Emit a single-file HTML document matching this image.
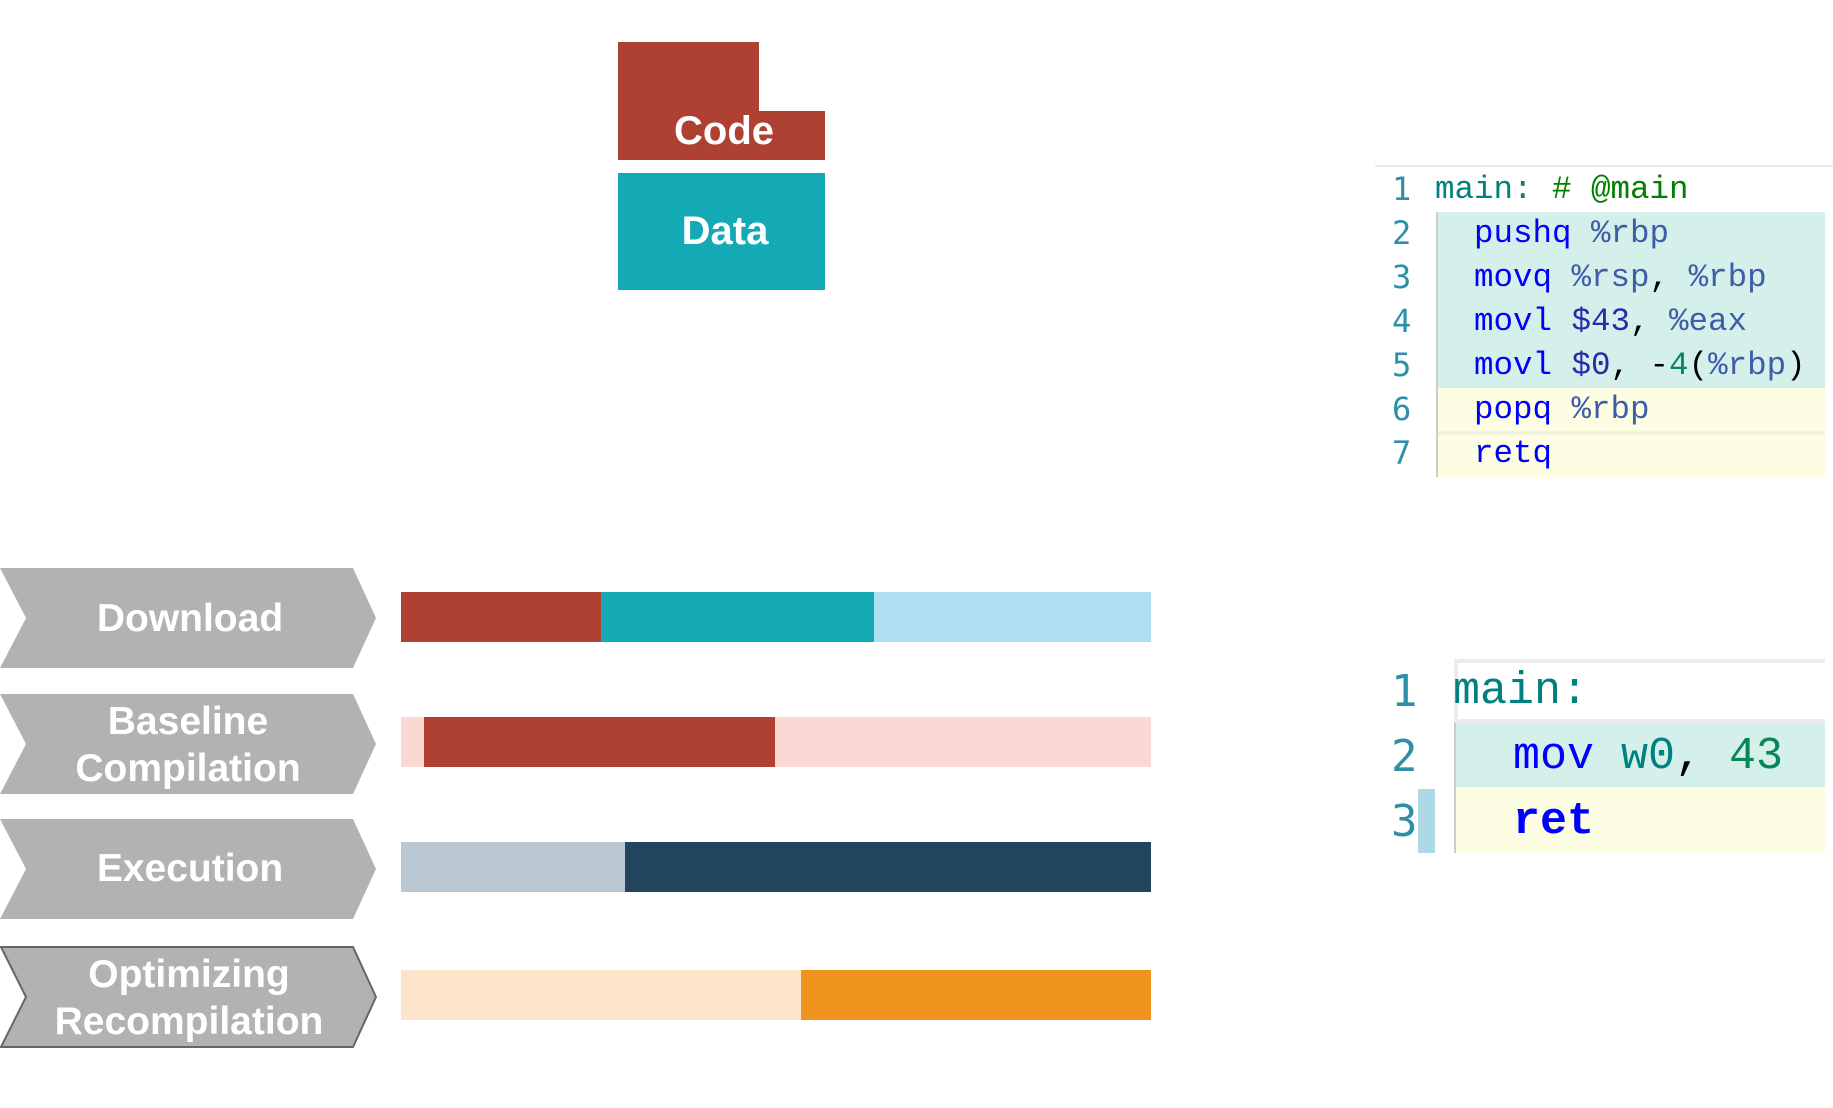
<!DOCTYPE html>
<html><head><meta charset="utf-8"><style>
html,body{margin:0;padding:0;background:#fff;width:1833px;height:1108px;overflow:hidden}
</style></head><body>
<svg width="1833" height="1108" viewBox="0 0 1833 1108" xmlns="http://www.w3.org/2000/svg">
<!-- Code / Data -->
<path d="M618 42 H759 V111 H825 V160 H618 Z" fill="#ae4132"/>
<text x="724" y="144" font-family="Liberation Sans, sans-serif" font-weight="bold" font-size="40" fill="#fff" text-anchor="middle">Code</text>
<rect x="618" y="173" width="207" height="117" fill="#13a9b5"/>
<text x="725" y="244" font-family="Liberation Sans, sans-serif" font-weight="bold" font-size="40" fill="#fff" text-anchor="middle">Data</text>

<!-- chevrons -->
<g font-family="Liberation Sans, sans-serif" font-weight="bold" fill="#fff" text-anchor="middle">
<path d="M0 568 H353 L376 618 L353 668 H0 L26 618 Z" fill="#b2b2b2"/>
<text x="190" y="631" font-size="39" fill="#fff">Download</text>
<path d="M0 694 H353 L376 744 L353 794 H0 L26 744 Z" fill="#b2b2b2"/>
<text x="188" y="734" font-size="39" fill="#fff">Baseline</text>
<text x="188" y="781" font-size="39" fill="#fff">Compilation</text>
<path d="M0 819 H353 L376 869 L353 919 H0 L26 869 Z" fill="#b2b2b2"/>
<text x="190" y="881" font-size="39" fill="#fff">Execution</text>
<path d="M1 947 H353 L376 997 L353 1047 H1 L26 997 Z" fill="#b2b2b2" stroke="#666" stroke-width="2"/>
<text x="189" y="987" font-size="39" fill="#fff">Optimizing</text>
<text x="189" y="1034" font-size="39" fill="#fff">Recompilation</text>
</g>

<!-- bars -->
<rect x="401" y="592" width="200" height="50" fill="#ae4132"/>
<rect x="601" y="592" width="273" height="50" fill="#13a9b5"/>
<rect x="874" y="592" width="277" height="50" fill="#b1ddf0"/>
<rect x="401" y="717" width="750" height="50" fill="#fad9d5"/>
<rect x="424" y="717" width="351" height="50" fill="#ae4132"/>
<rect x="401" y="842" width="224" height="50" fill="#bac8d3"/>
<rect x="625" y="842" width="526" height="50" fill="#23445d"/>
<rect x="401" y="970" width="400" height="50" fill="#fde5cc"/>
<rect x="801" y="970" width="350" height="50" fill="#f0931e"/>

<!-- code panel 1 -->
<line x1="1375" y1="166" x2="1833" y2="166" stroke="#e4e4ec" stroke-width="1.5"/>
<rect x="1436" y="212" width="389" height="176" fill="#d5efea"/>
<rect x="1436" y="388" width="389" height="89" fill="#fdfde4"/>
<line x1="1438" y1="433" x2="1825" y2="433" stroke="#f0f0dc" stroke-width="3"/>
<line x1="1437" y1="212" x2="1437" y2="477" stroke="#ccc" stroke-width="2"/>
<g font-family="Liberation Mono, monospace" font-size="32.5">
<g fill="#2e8fa8" font-family="DejaVu Sans Mono, monospace" font-size="32">
<text x="1392" y="200">1</text><text x="1392" y="244">2</text><text x="1392" y="288">3</text><text x="1392" y="332">4</text><text x="1392" y="376">5</text><text x="1392" y="420">6</text><text x="1392" y="464">7</text>
</g>
<text x="1435" y="198" xml:space="preserve"><tspan fill="#008080">main:</tspan><tspan fill="#008000"> # @main</tspan></text>
<text x="1474" y="242" xml:space="preserve"><tspan fill="#0000ff">pushq</tspan><tspan fill="#3e5da8"> %rbp</tspan></text>
<text x="1474" y="286" xml:space="preserve"><tspan fill="#0000ff">movq</tspan><tspan fill="#3e5da8"> %rsp</tspan><tspan fill="#000">,</tspan><tspan fill="#3e5da8"> %rbp</tspan></text>
<text x="1474" y="330" xml:space="preserve"><tspan fill="#0000ff">movl</tspan><tspan fill="#2a2aa8"> $43</tspan><tspan fill="#000">,</tspan><tspan fill="#3e5da8"> %eax</tspan></text>
<text x="1474" y="374" xml:space="preserve"><tspan fill="#0000ff">movl</tspan><tspan fill="#2a2aa8"> $0</tspan><tspan fill="#000">, -</tspan><tspan fill="#098658">4</tspan><tspan fill="#000">(</tspan><tspan fill="#3e5da8">%rbp</tspan><tspan fill="#000">)</tspan></text>
<text x="1474" y="418" xml:space="preserve"><tspan fill="#0000ff">popq</tspan><tspan fill="#3e5da8"> %rbp</tspan></text>
<text x="1474" y="462" fill="#0000ff">retq</text>
</g>

<!-- code panel 2 -->
<line x1="1454" y1="661" x2="1825" y2="661" stroke="#ececec" stroke-width="4"/>
<line x1="1456" y1="661" x2="1456" y2="720" stroke="#ececec" stroke-width="4"/>
<line x1="1454" y1="721" x2="1825" y2="721" stroke="#ececec" stroke-width="4"/>
<rect x="1454" y="723" width="371" height="64" fill="#d5efea"/>
<rect x="1454" y="787" width="371" height="66" fill="#fdfde4"/>
<line x1="1455" y1="723" x2="1455" y2="853" stroke="#ccc" stroke-width="2"/>
<rect x="1418" y="789" width="17" height="64" fill="#add8e6"/>
<g font-family="Liberation Mono, monospace" font-size="45">
<g fill="#2e8fa8" font-family="DejaVu Sans Mono, monospace" font-size="44">
<text x="1391" y="706">1</text><text x="1391" y="771">2</text><text x="1391" y="836">3</text>
</g>
<text x="1453" y="703" fill="#008080">main:</text>
<text x="1513" y="768" xml:space="preserve"><tspan fill="#0000ff">mov</tspan><tspan fill="#008080"> w0</tspan><tspan fill="#000">,</tspan><tspan fill="#098658"> 43</tspan></text>
<text x="1513" y="833" fill="#0000ff" font-weight="bold">ret</text>
</g>
</svg>
</body></html>
